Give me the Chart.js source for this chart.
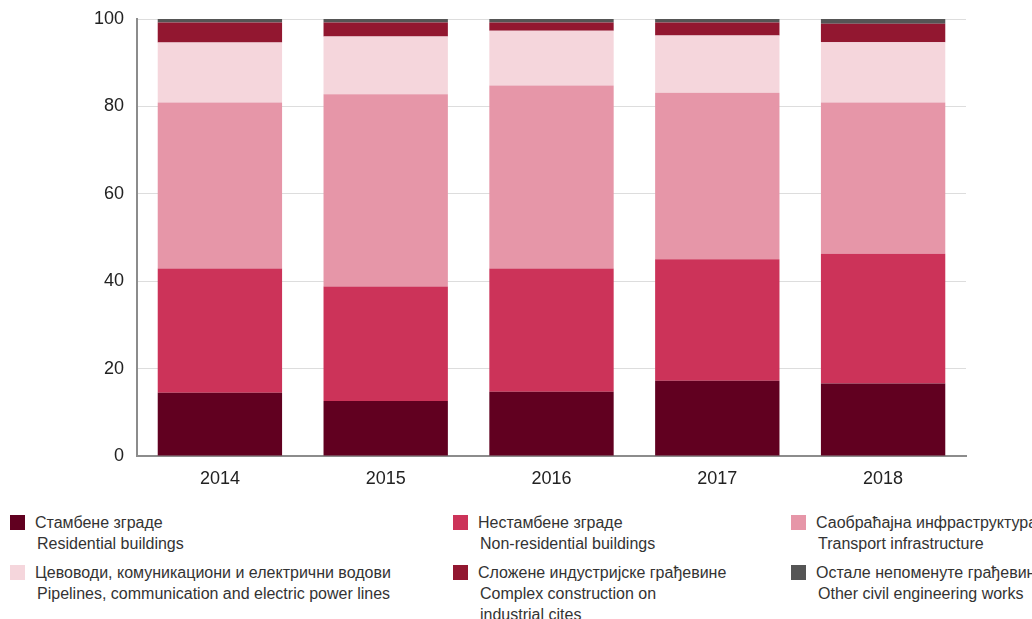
<!DOCTYPE html>
<html>
<head>
<meta charset="utf-8">
<script src="https://cdn.jsdelivr.net/npm/chart.js@4"></script>
<style>
  body { margin: 0; background: #fff; font-family: "Liberation Sans", Arial, sans-serif; }
  #wrap { position: relative; width: 1032px; height: 619px; overflow: hidden; }
  #chartBox { position: absolute; left: 0; top: 0; width: 1032px; height: 500px; }
  .item { position: absolute; font-size: 16px; line-height: 21px; color: #333; white-space: nowrap; }
  .item .sw { position: absolute; width: 15px; height: 15px; left: 0; top: 3px; }
  .item .tx { position: absolute; left: 25px; top: 0; }
  .item .tx span { display: block; }
  .item .tx span.en { padding-left: 2px; }
</style>
</head>
<body>
<div id="wrap">
  <div id="chartBox"><canvas id="myChart" width="1032" height="500"></canvas></div>
  <div id="legend"></div>
</div>
<script>
const years = ['2014', '2015', '2016', '2017', '2018'];

const residential = [14.5, 12.6, 14.7, 17.2, 16.6];
const nonResidential = [28.4, 26.2, 28.2, 27.8, 29.7];
const transport = [38.0, 44.0, 41.9, 38.1, 34.6];
const pipelines = [13.7, 13.2, 12.5, 13.1, 13.8];
const complexIndustrial = [4.6, 3.2, 1.9, 3.0, 4.2];
const otherWorks = [0.8, 0.8, 0.8, 0.8, 1.1];

const yTicks = [0, 20, 40, 60, 80, 100];

const series = [
    { sr: 'Стамбене зграде', en: 'Residential buildings', data: residential, color: '#610020' },
    { sr: 'Нестамбене зграде', en: 'Non-residential buildings', data: nonResidential, color: '#cc3359' },
    { sr: 'Саобраћајна инфраструктура', en: 'Transport infrastructure', data: transport, color: '#e696a8' },
    { sr: 'Цевоводи, комуникациони и електрични водови', en: 'Pipelines, communication and electric power lines', data: pipelines, color: '#f5d6dc' },
    { sr: 'Сложене индустријске грађевине', en: 'Complex construction on|industrial cites', data: complexIndustrial, color: '#921730' },
    { sr: 'Остале непоменуте грађевине', en: 'Other civil engineering works', data: otherWorks, color: '#555555' }
];

// legend in three columns, two rows (same order as the original)
const legendSlots = [
    { idx: 0, left: 10, top: 512 },
    { idx: 1, left: 453, top: 512 },
    { idx: 2, left: 791, top: 512 },
    { idx: 3, left: 10, top: 562 },
    { idx: 4, left: 453, top: 562 },
    { idx: 5, left: 791, top: 562 }
];

const legendEl = document.getElementById('legend');
legendSlots.forEach(slot => {
    const s = series[slot.idx];
    const div = document.createElement('div');
    div.className = 'item';
    div.style.left = slot.left + 'px';
    div.style.top = slot.top + 'px';
    const enLines = s.en.split('|').map(t => `<span class="en">${t}</span>`).join('');
    div.innerHTML = `<div class="sw" style="background:${s.color}"></div>` +
        `<div class="tx"><span>${s.sr}</span>${enLines}</div>`;
    legendEl.appendChild(div);
});

const ctx = document.getElementById('myChart').getContext('2d');
const font = { family: '"Liberation Sans", Arial, sans-serif', size: 18 };

new Chart(ctx, {
    type: 'bar',
    data: {
        labels: years,
        datasets: series.map(s => ({
            label: s.en.replace('|', ' '),
            data: s.data,
            backgroundColor: s.color,
            borderWidth: 0,
            barPercentage: 0.75,
            categoryPercentage: 1
        }))
    },
    options: {
        responsive: false,
        animation: false,
        layout: { padding: { top: 19, right: 66, bottom: 0, left: 0 } },
        plugins: {
            legend: { display: false },
            tooltip: { enabled: false }
        },
        scales: {
            x: {
                stacked: true,
                grid: { display: false, drawTicks: false },
                border: { display: true, color: '#8c8c8c', width: 2 },
                ticks: { color: '#222', font: font, padding: 12 },
                afterFit: scale => { scale.height = 44; }
            },
            y: {
                stacked: true,
                min: 0,
                max: 100,
                afterBuildTicks: scale => { scale.ticks = yTicks.map(v => ({ value: v })); },
                grid: { color: '#dddddd', lineWidth: 1, drawTicks: false },
                border: { display: true, color: '#8c8c8c', width: 2 },
                ticks: { color: '#222', font: font, padding: 13 },
                afterFit: scale => {
                    scale.width = 137;
                    scale.paddingTop = 0;
                    scale.paddingBottom = 0;
                }
            }
        }
    }
});
</script>
</body>
</html>
